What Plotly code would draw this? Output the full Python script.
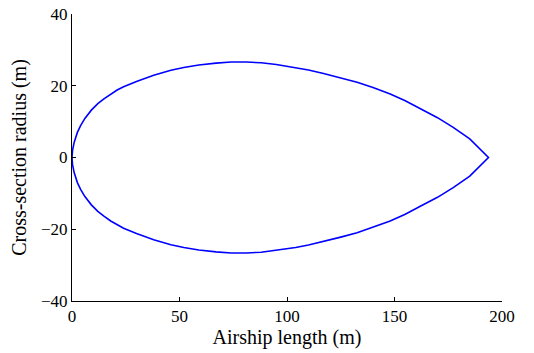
import plotly.graph_objects as go

# Upper profile of the airship; lower half is its mirror
length_m = [0, 0.25, 1.0, 2.5, 4.0, 6.0, 9.0, 12.0, 15.0, 18.0, 21.0, 24.0, 30.0, 38.0, 46.0,
            52.0, 59.0, 67.0, 74.0, 81.0, 88.0, 95.0, 104.0, 110.0, 117.0, 125.0, 132.6,
            140.0, 148.0, 155.0, 162.0, 170.0, 177.3, 185.0, 193.7]
radius_m = [0, 2.0, 4.2, 7.0, 8.9, 10.9, 13.2, 15.0, 16.4, 17.7, 18.8, 19.7, 21.2, 22.9, 24.3,
            25.1, 25.8, 26.3, 26.6, 26.6, 26.4, 25.9, 25.1, 24.4, 23.4, 22.2, 21.0,
            19.5, 17.7, 15.8, 13.6, 11.1, 8.4, 5.2, 0]

x_ticks = [0, 50, 100, 150, 200]
y_ticks = [-40, -20, 0, 20, 40]

xs = length_m + length_m[::-1][1:]
ys = radius_m + [-r for r in radius_m[::-1][1:]]

fig = go.Figure()
fig.add_trace(go.Scatter(x=xs, y=ys, mode="lines",
                         line=dict(color="#0000ff", width=1.6),
                         showlegend=False, hoverinfo="skip"))

font = dict(family="Liberation Serif", size=17, color="black")
axis_common = dict(ticks="inside", ticklen=4, tickcolor="black", showline=True, linecolor="black",
                   linewidth=1, showgrid=False, zeroline=False, mirror=False, automargin=False)
fig.update_layout(
    width=534, height=353,
    margin=dict(l=72, r=32, t=14, b=52),
    paper_bgcolor="white", plot_bgcolor="white",
    font=font,
    xaxis=dict(range=[0, 200], tickvals=x_ticks, title=dict(text="Airship length (m)", standoff=4), **axis_common),
    yaxis=dict(range=[-40, 40], tickvals=y_ticks, title=dict(text="Cross-section radius (m)", standoff=9), **axis_common),
)
fig.write_html("out.html", config={"displayModeBar": False},
               post_script="document.body.style.margin='0';")
